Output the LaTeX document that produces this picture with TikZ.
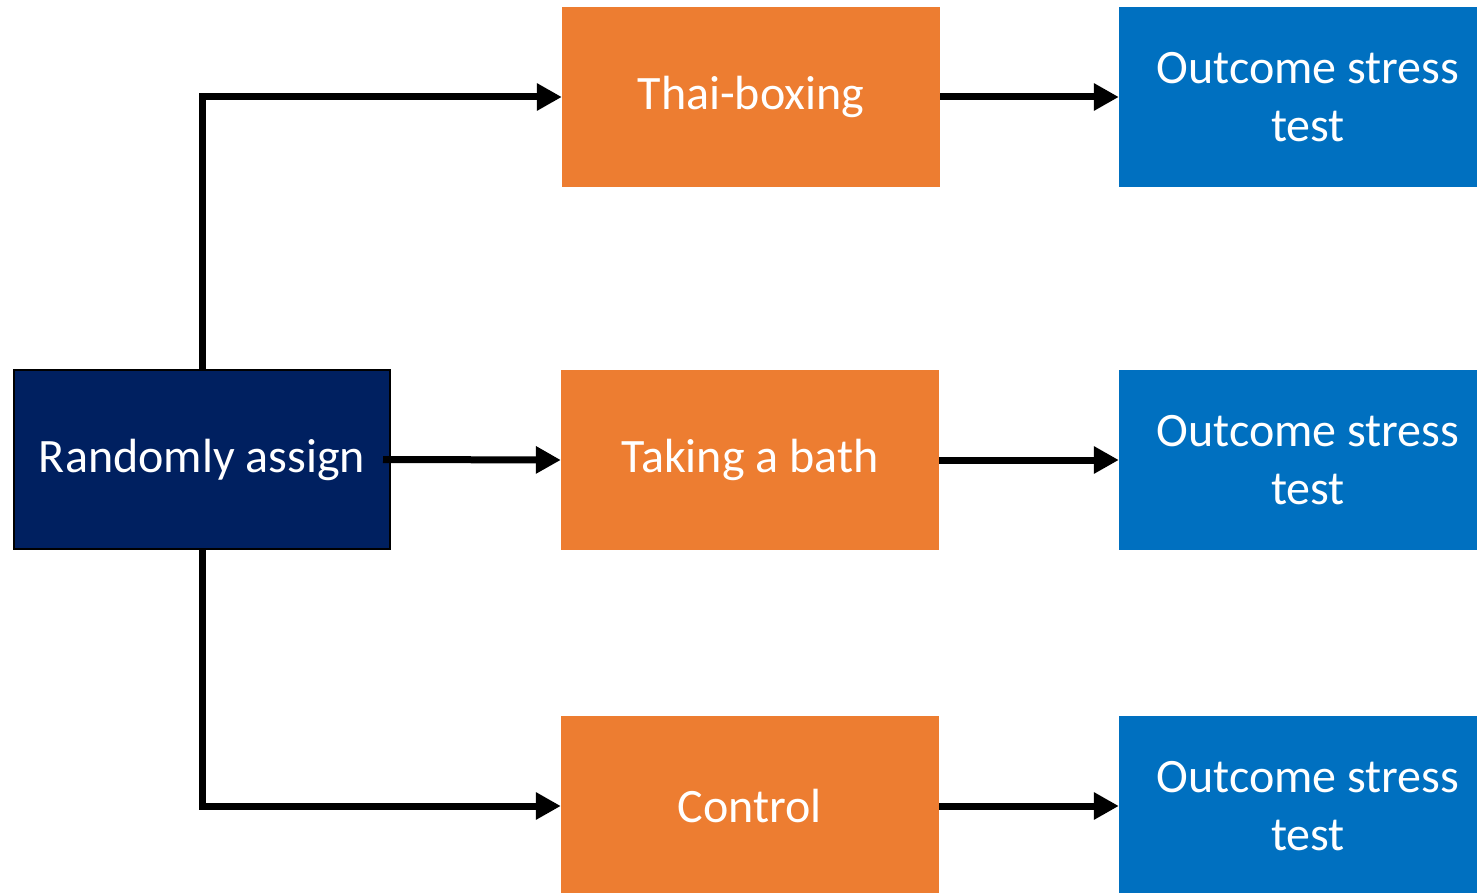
\documentclass[tikz,border=0pt]{standalone}
\usepackage{fontspec}
\setmainfont{Carlito}
\usetikzlibrary{arrows.meta}
\definecolor{navybox}{RGB}{0,32,96}
\definecolor{orangebox}{RGB}{237,125,49}
\definecolor{bluebox}{RGB}{0,112,192}
\begin{document}
\begin{tikzpicture}[x=1pt,y=1pt,
  boxbase/.style={minimum width=378pt, minimum height=180pt, inner sep=0pt, align=center, text=white,
    font=\fontsize{48}{58}\selectfont},
  navy/.style={boxbase, fill=navybox, draw=black, line width=2pt, minimum width=376pt, minimum height=179pt},
  orange/.style={boxbase, fill=orangebox},
  blue/.style={boxbase, fill=bluebox},
  arr/.style={line width=7pt, line join=miter, -{Triangle[length=25pt,width=26pt]}}]
\useasboundingbox (0,0) rectangle (1477,-893);
\node[navy] (rand) at (202,-459.5) {Randomly assign};
\node[orange] (thai) at (751,-97) {Thai-boxing};
\node[orange] (bath) at (750,-460) {Taking a bath};
\node[orange] (ctrl) at (750,-806) {Control};
\node[blue] (out1) at (1308,-97) {Outcome stress\\test};
\node[blue] (out2) at (1308,-460) {Outcome stress\\test};
\node[blue] (out3) at (1308,-806) {Outcome stress\\test};
\draw[arr] (rand.north) |- (thai.west);
\draw[arr] ([xshift=-8pt]rand.east) -- (bath.west);
\draw[arr] (rand.south) |- (ctrl.west);
\draw[arr] (thai.east) -- (out1.west);
\draw[arr] (bath.east) -- (out2.west);
\draw[arr] (ctrl.east) -- (out3.west);
\end{tikzpicture}
\end{document}
